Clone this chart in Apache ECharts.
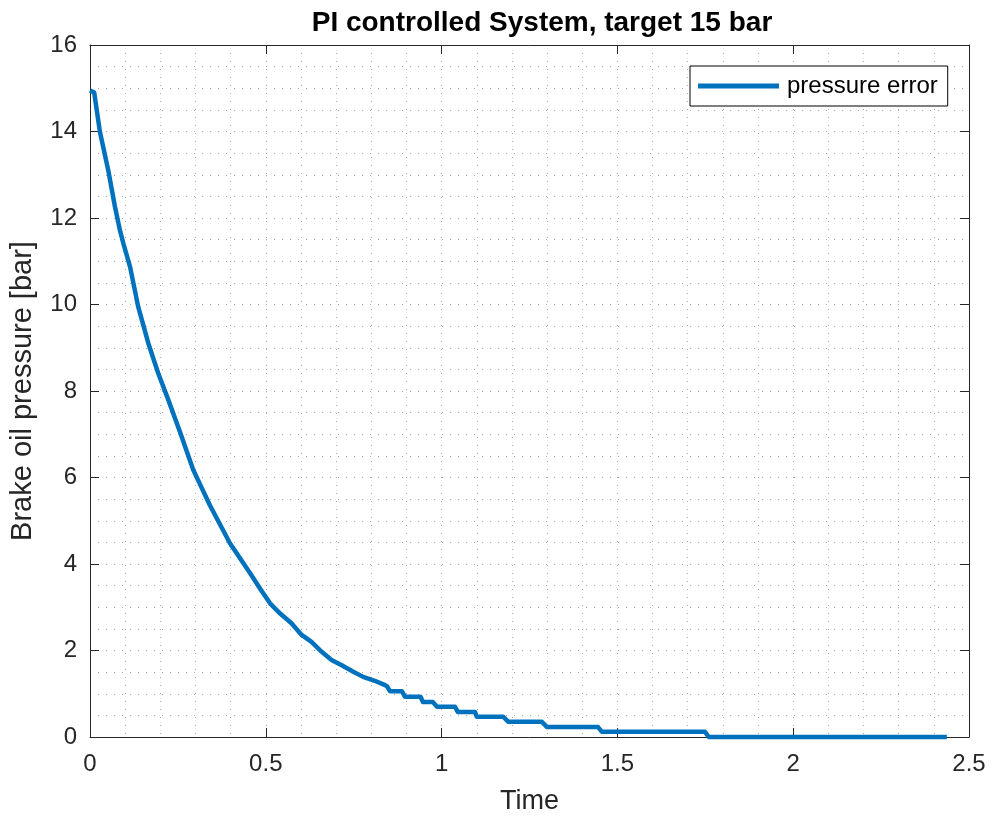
<!DOCTYPE html>
<html>
<head>
<meta charset="utf-8">
<script src="https://cdn.jsdelivr.net/npm/echarts@6/dist/echarts.min.js"></script>
<style>
  html, body { margin: 0; padding: 0; background: #ffffff; }
  #chart { width: 994px; height: 823px; }
</style>
</head>
<body>
<div id="chart"></div>
<script>
// ---- data ----
const chartTitle = 'PI controlled System, target 15 bar';
const xAxisName = 'Time';
const yAxisName = 'Brake oil pressure [bar]';
const seriesName = 'pressure error';

const time = [
  0, 0.012, 0.028, 0.052, 0.071, 0.085, 0.095, 0.114, 0.137, 0.166,
  0.194, 0.223, 0.256, 0.294, 0.341, 0.398, 0.455, 0.483, 0.512, 0.540,
  0.573, 0.602, 0.630, 0.659, 0.687, 0.716, 0.749, 0.777, 0.810, 0.839,
  0.845, 0.853, 0.887, 0.896, 0.940, 0.947, 0.975, 0.987, 1.038, 1.046,
  1.095, 1.100, 1.175, 1.190, 1.285, 1.300, 1.445, 1.456, 1.749, 1.760,
  2.437
];
const pressureError = [
  14.95, 14.9, 14.0, 13.1, 12.26, 11.72, 11.41, 10.87, 9.95, 9.10,
  8.41, 7.79, 7.05, 6.17, 5.36, 4.48, 3.79, 3.44, 3.09, 2.86,
  2.63, 2.36, 2.20, 1.97, 1.78, 1.66, 1.51, 1.39, 1.30, 1.20,
  1.17, 1.06, 1.06, 0.93, 0.93, 0.81, 0.81, 0.70, 0.70, 0.58,
  0.58, 0.47, 0.47, 0.35, 0.35, 0.23, 0.23, 0.12, 0.12, 0,
  0
];

const xMin = 0, xMax = 2.5, xStep = 0.5;
const yMin = 0, yMax = 16, yStep = 2;

// ---- chart ----
const FONT = 'Liberation Sans, Arial, sans-serif';
const axisColor = '#262626';
function gridDots() { return { color: '#a8a8a8', width: 1, type: [1, 7] }; }
function axisLine() { return { show: true, onZero: false, lineStyle: { color: axisColor, width: 1 } }; }
function axisTick() { return { show: true, inside: true, length: 9, lineStyle: { color: axisColor, width: 1 } }; }

const chart = echarts.init(document.getElementById('chart'), null, { renderer: 'canvas' });

chart.setOption({
  animation: false,
  backgroundColor: '#ffffff',
  title: {
    text: chartTitle,
    left: 537,
    textAlign: 'center',
    top: 4,
    textStyle: { fontFamily: FONT, fontSize: 28, fontWeight: 'bold', color: '#000000' }
  },
  legend: {
    show: true,
    left: 690,
    top: 66,
    orient: 'horizontal',
    backgroundColor: '#ffffff',
    borderColor: '#000000',
    borderWidth: 1,
    borderRadius: 0,
    padding: [8, 10, 8, 8],
    itemWidth: 81,
    itemHeight: 5,
    itemGap: 8,
    icon: 'rect',
    textStyle: { fontFamily: FONT, fontSize: 24, color: '#000000', padding: [0, 0, 0, 3] },
    data: [seriesName]
  },
  grid: { left: 90, right: 25, top: 45, bottom: 86, containLabel: false, outerBoundsMode: 'none' },
  xAxis: [
    {
      type: 'value', position: 'bottom', min: xMin, max: xMax, interval: xStep,
      name: xAxisName, nameLocation: 'middle', nameGap: 51,
      nameTextStyle: { fontFamily: FONT, fontSize: 27, color: axisColor },
      axisLine: axisLine(), axisTick: axisTick(),
      axisLabel: { fontFamily: FONT, fontSize: 24, color: axisColor, margin: 15 },
      splitLine: { show: true, lineStyle: gridDots() },
      minorTick: { show: false, splitNumber: 5 },
      minorSplitLine: { show: true, lineStyle: gridDots() }
    },
    {
      type: 'value', position: 'top', min: xMin, max: xMax, interval: xStep,
      axisLine: axisLine(), axisTick: axisTick(), axisLabel: { show: false },
      splitLine: { show: false }
    }
  ],
  yAxis: [
    {
      type: 'value', position: 'left', min: yMin, max: yMax, interval: yStep,
      name: yAxisName, nameLocation: 'middle', nameGap: 53, nameRotate: 90,
      nameTextStyle: { fontFamily: FONT, fontSize: 29, color: axisColor },
      axisLine: axisLine(), axisTick: axisTick(),
      axisLabel: { fontFamily: FONT, fontSize: 24, color: axisColor, margin: 13 },
      splitLine: { show: true, lineStyle: gridDots() },
      minorTick: { show: false, splitNumber: 4 },
      minorSplitLine: { show: true, lineStyle: gridDots() }
    },
    {
      type: 'value', position: 'right', min: yMin, max: yMax, interval: yStep,
      axisLine: axisLine(), axisTick: axisTick(), axisLabel: { show: false },
      splitLine: { show: false }
    }
  ],
  series: [
    {
      name: seriesName,
      type: 'line',
      xAxisIndex: 0,
      yAxisIndex: 0,
      showSymbol: false,
      symbol: 'none',
      clip: false,
      color: '#0072BD',
      lineStyle: { color: '#0072BD', width: 4.5, join: 'round', cap: 'butt' },
      data: time.map((t, i) => [t, pressureError[i]])
    }
  ]
});
</script>
</body>
</html>
